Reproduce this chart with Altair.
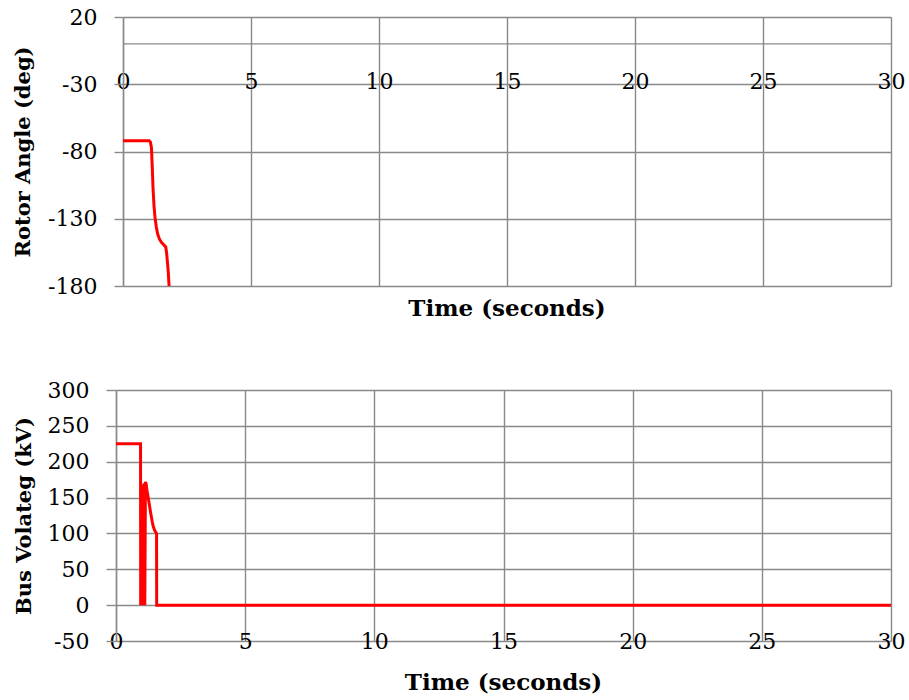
import altair as alt
import pandas as pd

# Rotor angle trace (seconds, degrees)
angle_time = [0, 1.02, 1.07, 1.11, 1.14, 1.17, 1.21, 1.25, 1.30, 1.35, 1.42,
              1.50, 1.60, 1.67, 1.70, 1.73, 1.77, 1.80]
rotor_angle = [-72, -72, -73, -77, -90, -106, -120, -129, -136, -141, -145,
               -147.5, -149.5, -151, -155, -161, -170, -180]

# Bus voltage trace (seconds, kV); the fault produces a rapid 0/peak chatter
volt_time = [0, 0.95, 0.955, 0.965, 0.975, 0.985, 0.995, 1.005, 1.015, 1.025,
             1.035, 1.045, 1.055, 1.065, 1.075, 1.085, 1.095, 1.105, 1.115,
             1.14, 1.17, 1.20, 1.25, 1.30, 1.34, 1.40, 1.44, 1.50, 1.55, 1.57,
             1.575, 30]
bus_voltage = [225, 225, 0, 150, 0, 155, 0, 160, 0, 163,
               0, 166, 0, 168, 0, 170, 0, 170, 0,
               172, 168, 160, 149, 138, 129, 117, 110, 104, 101, 100,
               0, 0]

x_ticks = [0, 5, 10, 15, 20, 25, 30]
angle_ticks = [20, -30, -80, -130, -180]
volt_ticks = [-50, 0, 50, 100, 150, 200, 250, 300]
zero_line = [0]

FONT = "DejaVu Serif"
GRID = "#898989"
RED = "#ff0000"
GW = 1.4
PANEL_W = 775
TOP_INSET = 7  # upper panel's plot area starts a little further right

angle_df = pd.DataFrame({"t": angle_time, "v": rotor_angle})
volt_df = pd.DataFrame({"t": volt_time, "v": bus_voltage})
zero_df = pd.DataFrame({"v": zero_line, "a": [0], "b": [30]})


def x_enc(offset, rng):
    return alt.X(
        "t:Q",
        scale=alt.Scale(domain=[0, 30], nice=False, range=rng),
        axis=alt.Axis(
            values=x_ticks, title=None, domain=False, ticks=False, tickSize=0,
            grid=True, gridColor=GRID, gridWidth=GW, labelPadding=0,
            offset=offset, labelBaseline="top", labelFont=FONT,
            labelFontSize=22, labelColor="black", labelFlush=False,
        ),
    )


def y_axis(values, title, tick, lpad, tpad, offset=0):
    return alt.Axis(
        values=values, title=title, domain=True, domainColor=GRID,
        domainWidth=GW, ticks=True, tickSize=tick, tickColor=GRID,
        tickWidth=GW, grid=True, gridColor=GRID, gridWidth=GW,
        labelPadding=lpad, labelFont=FONT, labelFontSize=22,
        labelColor="black", labelExpr="datum.value + ''", labelFlush=False,
        titleFont=FONT, titleFontSize=21, titleFontWeight="bold",
        titleColor="black", titlePadding=tpad, offset=offset,
    )


def x_title(offset, dx=0):
    return alt.TitleParams(
        "Time (seconds)", orient="bottom", anchor="middle", frame="group",
        font=FONT, fontSize=23, fontWeight="bold", color="black",
        offset=offset, dx=dx,
    )


top_range = [TOP_INSET, PANEL_W]
y_top = alt.Scale(domain=[-180, 20], nice=False)
top_line = alt.Chart(angle_df).mark_line(color=RED, strokeWidth=3, clip=True).encode(
    x=x_enc(-215, top_range),
    y=alt.Y("v:Q", scale=y_top,
            axis=y_axis(angle_ticks, "Rotor Angle (deg)", 9, 17, 14, -TOP_INSET)),
    order="t:Q",
)
top_zero = alt.Chart(zero_df).mark_rule(color=GRID, strokeWidth=GW).encode(
    x=alt.X("a:Q", scale=alt.Scale(domain=[0, 30], nice=False, range=top_range)),
    x2="b:Q",
    y=alt.Y("v:Q", scale=y_top),
)
top = alt.layer(top_zero, top_line).properties(
    width=PANEL_W, height=269, title=x_title(1, TOP_INSET / 2)
)

y_bot = alt.Scale(domain=[-50, 300], nice=False)
bottom_line = alt.Chart(volt_df).mark_line(color=RED, strokeWidth=3, clip=True).encode(
    x=x_enc(-10, [0, PANEL_W]),
    y=alt.Y("v:Q", scale=y_bot,
            axis=y_axis(volt_ticks, "Bus Volateg (kV)", 10, 17, 13)),
    order="t:Q",
)
bottom = bottom_line.properties(width=PANEL_W, height=251, title=x_title(20))

chart = alt.vconcat(top, bottom, spacing=58).properties(
    padding={"left": 12, "top": 6, "right": 3, "bottom": 0},
    background="white",
).configure_view(stroke=None)

chart.save("out.html", embed_options={"renderer": "svg", "actions": False})
